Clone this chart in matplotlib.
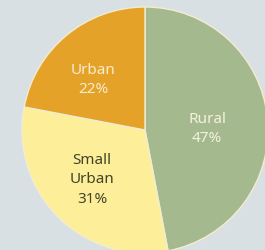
import matplotlib
matplotlib.use("Agg")
import matplotlib.pyplot as plt

# Data
categories = ["Rural", "Small\nUrban", "Urban"]
shares = [47, 31, 22]
colors = ["#a5b98f", "#fdef9a", "#e5a229"]
text_colors = ["#f6f1dc", "#45432a", "#f8eccb"]

plt.rcParams['font.family'] = ['Noto Sans', 'DejaVu Sans']

W, H = 265, 251
fig = plt.figure(figsize=(W / 100, H / 100), dpi=100)
fig.patch.set_facecolor("#d8e0e3")

# pie center at (145, 131) px from top-left, radius 123 px
cx, cy, r = 145, 131, 123
ax = fig.add_axes([(cx - r) / W, (H - cy - r) / H, 2 * r / W, 2 * r / H])
ax.pie(shares, colors=colors, startangle=90, counterclock=False,
       wedgeprops=dict(edgecolor="#f3ecd0", linewidth=1.0))
ax.set_xlim(-1, 1)
ax.set_ylim(-1, 1)
ax.set_aspect("auto")
ax.axis("off")

# label anchor points in pixels (centre of text block)
label_px = [(207, 129), (92, 180), (93, 80)]
for name, val, tc, (px, py) in zip(categories, shares, text_colors, label_px):
    ax.text((px - cx) / r, (cy - py) / r, f"{name}\n{val}%", ha="center", va="center",
            color=tc, fontsize=11, linespacing=1.38)

fig.savefig("out.png", dpi=100, facecolor=fig.get_facecolor())
